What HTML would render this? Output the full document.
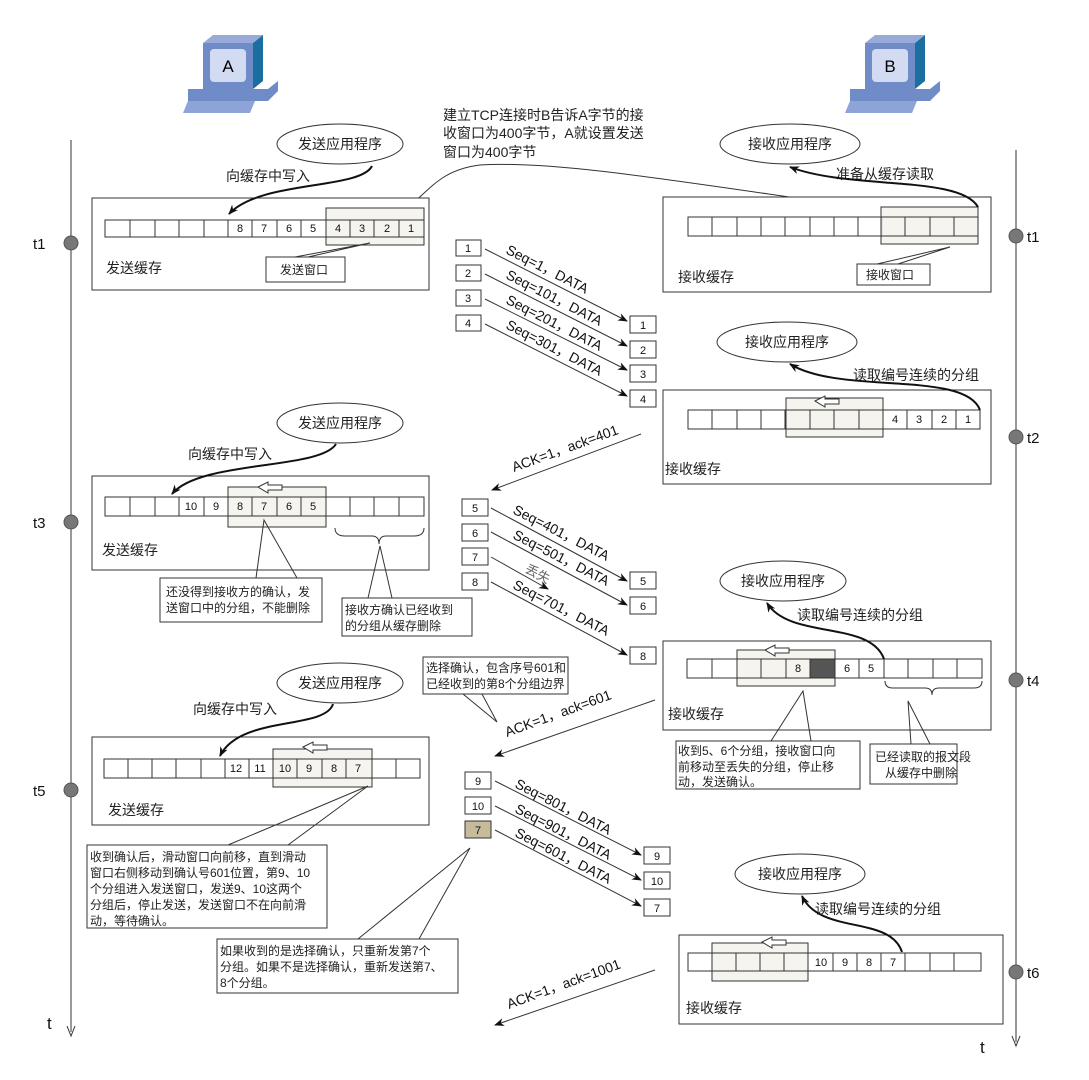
<!DOCTYPE html>
<html><head><meta charset="utf-8"><style>
html,body{margin:0;padding:0;background:#fff;}
svg{display:block;font-family:"Liberation Sans","Noto Sans CJK SC",sans-serif;}
.c{fill:#fff;stroke:#333;stroke-width:1;}
.w{fill:#f3f2ec;fill-opacity:.85;stroke:#333;stroke-width:1;}
.n{font-size:11px;text-anchor:middle;fill:#111;}
.l{font-size:14px;fill:#222;}
.s{font-size:12px;fill:#222;}
.ln{stroke:#333;fill:none;stroke-width:1;}
.cv{stroke:#111;fill:none;stroke-width:2;}
.sq{font-size:14px;fill:#111;}
</style></head><body>
<svg width="1089" height="1080" viewBox="0 0 1089 1080" xmlns="http://www.w3.org/2000/svg">
<defs>
<marker id="a" markerWidth="10" markerHeight="8" refX="9" refY="4" orient="auto" markerUnits="userSpaceOnUse"><path d="M0,0 L10,4 L0,8 L3,4 z" fill="#111"/></marker>
<g id="pc">
<polygon points="0,10 10,2 60,2 50,10" fill="#9aaad8"/>
<polygon points="50,10 60,2 60,48 50,56" fill="#1a6ea0"/>
<rect x="0" y="10" width="50" height="46" fill="#6f8cc8"/>
<rect x="7" y="16" width="36" height="33" rx="4" fill="#d3dbf2"/>
<polygon points="-15,56 65,56 75,48 75,58 65,68 -15,68" fill="#6f8cc8"/>
<polygon points="-20,80 47,80 52,68 -15,68" fill="#8ea4d8"/>
</g>
<g id="larr"><polygon points="0,5 10,0 10,3 24,3 24,8 10,8 10,11" fill="#fff" stroke="#333"/></g>
</defs>

<use href="#pc" x="203" y="33"/>
<text x="228" y="72" font-size="17" text-anchor="middle">A</text>
<use href="#pc" x="865" y="33"/>
<text x="890" y="72" font-size="17" text-anchor="middle">B</text>

<line x1="71" y1="140" x2="71" y2="1032" class="ln"/>
<path d="M67,1026 L71,1036 L75,1026" class="ln"/>
<line x1="1016" y1="150" x2="1016" y2="1042" class="ln"/>
<path d="M1012,1036 L1016,1046 L1020,1036" class="ln"/>
<g fill="#777" stroke="#555">
<circle cx="71" cy="243" r="7"/><circle cx="71" cy="522" r="7"/><circle cx="71" cy="790" r="7"/>
<circle cx="1016" cy="236" r="7"/><circle cx="1016" cy="437" r="7"/><circle cx="1016" cy="680" r="7"/><circle cx="1016" cy="972" r="7"/>
</g>
<g font-size="15" fill="#111">
<text x="33" y="249">t1</text><text x="33" y="528">t3</text><text x="33" y="796">t5</text>
<text x="1027" y="242">t1</text><text x="1027" y="443">t2</text><text x="1027" y="686">t4</text><text x="1027" y="978">t6</text>
<text x="47" y="1029" font-size="17">t</text><text x="980" y="1053" font-size="17">t</text>
</g>

<g class="l" font-size="14"><text x="443" y="120">建立TCP连接时B告诉A字节的接</text><text x="443" y="138">收窗口为400字节，A就设置发送</text><text x="443" y="157">窗口为400字节</text></g>
<path d="M880,210 C700,185 560,160 480,165 C440,170 430,190 403,212" class="ln" marker-end="url(#a)"/>

<rect x="92" y="198" width="337" height="92" class="c"/>
<g class="c">
<rect x="105" y="220" width="25" height="17"/><rect x="130" y="220" width="25" height="17"/><rect x="155" y="220" width="24" height="17"/><rect x="179" y="220" width="25" height="17"/><rect x="204" y="220" width="24" height="17"/><rect x="228" y="220" width="24" height="17"/><rect x="252" y="220" width="25" height="17"/><rect x="277" y="220" width="24" height="17"/><rect x="301" y="220" width="25" height="17"/>
</g>
<rect x="326" y="208" width="98" height="37" class="w"/>
<g class="c" style="fill:none"><rect x="326" y="220" width="24" height="17"/><rect x="350" y="220" width="24" height="17"/><rect x="374" y="220" width="25" height="17"/><rect x="399" y="220" width="25" height="17"/></g>
<g class="n"><text x="240" y="232">8</text><text x="264" y="232">7</text><text x="289" y="232">6</text><text x="313" y="232">5</text><text x="338" y="232">4</text><text x="362" y="232">3</text><text x="387" y="232">2</text><text x="411" y="232">1</text></g>
<polyline points="295,257 370,243 308,257" class="ln"/>
<rect x="266" y="257" width="79" height="25" class="c"/>
<text x="280" y="274" class="s">发送窗口</text>
<text x="106" y="273" class="l">发送缓存</text>
<ellipse cx="340" cy="144" rx="63" ry="20" class="c"/>
<text x="340" y="149" class="l" text-anchor="middle">发送应用程序</text>
<text x="226" y="181" class="l">向缓存中写入</text>
<path d="M372,166 C360,190 260,180 229,214" class="cv" marker-end="url(#a)"/>

<rect x="663" y="197" width="328" height="95" class="c"/>
<g class="c">
<rect x="688" y="217" width="24" height="19"/><rect x="712" y="217" width="25" height="19"/><rect x="737" y="217" width="24" height="19"/><rect x="761" y="217" width="24" height="19"/><rect x="785" y="217" width="25" height="19"/><rect x="810" y="217" width="24" height="19"/><rect x="834" y="217" width="24" height="19"/><rect x="858" y="217" width="24" height="19"/>
</g>
<rect x="881" y="207" width="97" height="37" class="w"/>
<g class="c" style="fill:none"><rect x="881" y="217" width="24" height="19"/><rect x="905" y="217" width="25" height="19"/><rect x="930" y="217" width="24" height="19"/><rect x="954" y="217" width="24" height="19"/></g>
<polyline points="877,264 950,247 898,264" class="ln"/>
<rect x="857" y="264" width="73" height="21" class="c"/>
<text x="866" y="279" class="s">接收窗口</text>
<text x="678" y="282" class="l">接收缓存</text>
<ellipse cx="790" cy="144" rx="70" ry="20" class="c"/>
<text x="790" y="149" class="l" text-anchor="middle">接收应用程序</text>
<text x="836" y="179" class="l">准备从缓存读取</text>
<path d="M978,207 C960,175 850,190 790,167" class="cv" marker-end="url(#a)"/>

<g class="c">
<rect x="456" y="240" width="25" height="16"/><rect x="456" y="265" width="25" height="16"/><rect x="456" y="290" width="25" height="16"/><rect x="456" y="315" width="25" height="16"/>
<rect x="630" y="316" width="26" height="17"/><rect x="630" y="341" width="26" height="17"/><rect x="630" y="365" width="26" height="17"/><rect x="630" y="390" width="26" height="17"/>
</g>
<g class="n"><text x="468" y="252">1</text><text x="468" y="277">2</text><text x="468" y="302">3</text><text x="468" y="327">4</text>
<text x="643" y="329">1</text><text x="643" y="354">2</text><text x="643" y="378">3</text><text x="643" y="403">4</text></g>
<g class="ln" marker-end="url(#a)">
<line x1="485" y1="249" x2="627" y2="321"/><line x1="485" y1="274" x2="627" y2="346"/><line x1="485" y1="299" x2="627" y2="370"/><line x1="485" y1="324" x2="627" y2="396"/>
</g>
<g class="sq">
<text transform="translate(505,253) rotate(27)">Seq=1，DATA</text>
<text transform="translate(505,278) rotate(27)">Seq=101，DATA</text>
<text transform="translate(505,303) rotate(27)">Seq=201，DATA</text>
<text transform="translate(505,328) rotate(27)">Seq=301，DATA</text>
</g>

<rect x="663" y="390" width="328" height="94" class="c"/>
<g class="c">
<rect x="688" y="410" width="24" height="19"/><rect x="712" y="410" width="25" height="19"/><rect x="737" y="410" width="24" height="19"/><rect x="761" y="410" width="24" height="19"/>
<rect x="883" y="410" width="24" height="19"/><rect x="907" y="410" width="25" height="19"/><rect x="932" y="410" width="24" height="19"/><rect x="956" y="410" width="24" height="19"/>
</g>
<rect x="786" y="398" width="97" height="39" class="w"/>
<g class="c" style="fill:none"><rect x="786" y="410" width="24" height="19"/><rect x="810" y="410" width="24" height="19"/><rect x="834" y="410" width="25" height="19"/><rect x="859" y="410" width="24" height="19"/></g>
<use href="#larr" x="815" y="396"/>
<g class="n"><text x="895" y="423">4</text><text x="919" y="423">3</text><text x="944" y="423">2</text><text x="968" y="423">1</text></g>
<text x="665" y="474" class="l">接收缓存</text>
<ellipse cx="787" cy="342" rx="70" ry="20" class="c"/>
<text x="787" y="347" class="l" text-anchor="middle">接收应用程序</text>
<text x="853" y="380" class="l">读取编号连续的分组</text>
<path d="M980,410 C965,370 840,395 790,364" class="cv" marker-end="url(#a)"/>
<line x1="641" y1="434" x2="492" y2="490" class="ln" marker-end="url(#a)"/>
<text transform="translate(514,472) rotate(-20)" class="sq">ACK=1，ack=401</text>

<rect x="92" y="476" width="337" height="94" class="c"/>
<g class="c">
<rect x="105" y="497" width="25" height="19"/><rect x="130" y="497" width="25" height="19"/><rect x="155" y="497" width="24" height="19"/><rect x="179" y="497" width="25" height="19"/><rect x="204" y="497" width="24" height="19"/>
<rect x="326" y="497" width="24" height="19"/><rect x="350" y="497" width="24" height="19"/><rect x="374" y="497" width="25" height="19"/><rect x="399" y="497" width="25" height="19"/>
</g>
<rect x="228" y="487" width="98" height="40" class="w"/>
<g class="c" style="fill:none"><rect x="228" y="497" width="24" height="19"/><rect x="252" y="497" width="25" height="19"/><rect x="277" y="497" width="24" height="19"/><rect x="301" y="497" width="25" height="19"/></g>
<use href="#larr" x="258" y="482"/>
<g class="n"><text x="191" y="510">10</text><text x="216" y="510">9</text><text x="240" y="510">8</text><text x="264" y="510">7</text><text x="289" y="510">6</text><text x="313" y="510">5</text></g>
<path d="M335,528 Q335,536 345,536 L372,536 Q379,536 379,544 Q379,536 386,536 L414,536 Q424,536 424,528" class="ln"/>
<text x="102" y="555" class="l">发送缓存</text>
<polyline points="256,578 264,520 297,578" class="ln"/>
<rect x="160" y="578" width="162" height="44" class="c"/>
<text x="166" y="596" class="s">还没得到接收方的确认，发</text><text x="166" y="612" class="s">送窗口中的分组，不能删除</text>
<polyline points="368,598 380,546 392,598" class="ln"/>
<rect x="342" y="598" width="130" height="38" class="c"/>
<text x="345" y="614" class="s">接收方确认已经收到</text><text x="345" y="630" class="s">的分组从缓存删除</text>
<ellipse cx="340" cy="423" rx="63" ry="20" class="c"/>
<text x="340" y="428" class="l" text-anchor="middle">发送应用程序</text>
<text x="188" y="459" class="l">向缓存中写入</text>
<path d="M336,444 C320,470 200,460 172,494" class="cv" marker-end="url(#a)"/>

<g class="c">
<rect x="462" y="499" width="26" height="17"/><rect x="462" y="524" width="26" height="17"/><rect x="462" y="548" width="26" height="17"/><rect x="462" y="573" width="26" height="17"/>
<rect x="630" y="572" width="26" height="17"/><rect x="630" y="597" width="26" height="17"/><rect x="630" y="647" width="26" height="17"/>
</g>
<g class="n"><text x="475" y="512">5</text><text x="475" y="537">6</text><text x="475" y="561">7</text><text x="475" y="586">8</text>
<text x="643" y="585">5</text><text x="643" y="610">6</text><text x="643" y="660">8</text></g>
<g class="ln" marker-end="url(#a)">
<line x1="491" y1="508" x2="627" y2="581"/><line x1="491" y1="532" x2="627" y2="605"/><line x1="491" y1="557" x2="548" y2="589"/><line x1="491" y1="582" x2="627" y2="655"/>
</g>
<text transform="translate(524,572) rotate(27)" font-size="13" fill="#666">丢失</text>
<g class="sq">
<text transform="translate(512,513) rotate(27)">Seq=401，DATA</text>
<text transform="translate(512,538) rotate(27)">Seq=501，DATA</text>
<text transform="translate(512,588) rotate(27)">Seq=701，DATA</text>
</g>

<rect x="663" y="641" width="328" height="89" class="c"/>
<g class="c">
<rect x="687" y="659" width="25" height="19"/><rect x="712" y="659" width="25" height="19"/>
<rect x="835" y="659" width="24" height="19"/><rect x="859" y="659" width="25" height="19"/><rect x="884" y="659" width="24" height="19"/><rect x="908" y="659" width="25" height="19"/><rect x="933" y="659" width="24" height="19"/><rect x="957" y="659" width="25" height="19"/>
</g>
<rect x="737" y="650" width="98" height="36" class="w"/>
<g class="c" style="fill:none"><rect x="737" y="659" width="24" height="19"/><rect x="761" y="659" width="25" height="19"/><rect x="786" y="659" width="24" height="19"/></g>
<rect x="810" y="659" width="25" height="19" fill="#555" stroke="#333"/>
<use href="#larr" x="765" y="645"/>
<g class="n"><text x="798" y="672">8</text><text x="847" y="672">6</text><text x="871" y="672">5</text></g>
<path d="M885,681 Q885,688 893,688 L925,688 Q932,688 932,695 Q932,688 939,688 L974,688 Q982,688 982,681" class="ln"/>
<text x="668" y="719" class="l">接收缓存</text>
<ellipse cx="783" cy="581" rx="63" ry="20" class="c"/>
<text x="783" y="586" class="l" text-anchor="middle">接收应用程序</text>
<text x="797" y="620" class="l">读取编号连续的分组</text>
<path d="M884,659 C870,620 790,640 767,603" class="cv" marker-end="url(#a)"/>
<polyline points="771,741 803,691 811,741" class="ln"/>
<rect x="676" y="741" width="184" height="48" class="c"/>
<text x="678" y="755" class="s">收到5、6个分组，接收窗口向</text><text x="678" y="771" class="s">前移动至丢失的分组，停止移</text><text x="678" y="786" class="s">动，发送确认。</text>
<polyline points="911,744 908,701 930,744" class="ln"/>
<rect x="870" y="744" width="87" height="40" class="c"/>
<text x="875" y="761" class="s">已经读取的报文段</text><text x="885" y="777" class="s">从缓存中删除</text>
<polyline points="463,694 497,722 482,694" class="ln"/>
<rect x="423" y="657" width="145" height="37" class="c"/>
<text x="426" y="672" class="s">选择确认，包含序号601和</text><text x="426" y="688" class="s">已经收到的第8个分组边界</text>
<line x1="655" y1="700" x2="495" y2="756" class="ln" marker-end="url(#a)"/>
<text transform="translate(507,737) rotate(-20)" class="sq">ACK=1，ack=601</text>

<rect x="92" y="737" width="337" height="88" class="c"/>
<g class="c">
<rect x="104" y="759" width="24" height="19"/><rect x="128" y="759" width="24" height="19"/><rect x="152" y="759" width="24" height="19"/><rect x="176" y="759" width="25" height="19"/><rect x="201" y="759" width="24" height="19"/><rect x="225" y="759" width="24" height="19"/><rect x="249" y="759" width="24" height="19"/>
<rect x="372" y="759" width="24" height="19"/><rect x="396" y="759" width="24" height="19"/>
</g>
<rect x="273" y="749" width="99" height="38" class="w"/>
<g class="c" style="fill:none"><rect x="273" y="759" width="24" height="19"/><rect x="297" y="759" width="25" height="19"/><rect x="322" y="759" width="24" height="19"/><rect x="346" y="759" width="26" height="19"/></g>
<use href="#larr" x="303" y="742"/>
<g class="n"><text x="236" y="772">12</text><text x="260" y="772">11</text><text x="285" y="772">10</text><text x="309" y="772">9</text><text x="334" y="772">8</text><text x="358" y="772">7</text></g>
<text x="108" y="815" class="l">发送缓存</text>
<ellipse cx="340" cy="683" rx="63" ry="20" class="c"/>
<text x="340" y="688" class="l" text-anchor="middle">发送应用程序</text>
<text x="193" y="714" class="l">向缓存中写入</text>
<path d="M333,704 C325,730 240,715 220,756" class="cv" marker-end="url(#a)"/>
<polyline points="228,845 368,786 288,845" class="ln"/>
<rect x="87" y="845" width="240" height="83" class="c"/>
<g class="s"><text x="90" y="861">收到确认后，滑动窗口向前移，直到滑动</text><text x="90" y="877">窗口右侧移动到确认号601位置，第9、10</text><text x="90" y="893">个分组进入发送窗口，发送9、10这两个</text><text x="90" y="909">分组后，停止发送，发送窗口不在向前滑</text><text x="90" y="925">动，等待确认。</text></g>
<polyline points="358,939 470,848 419,939" class="ln"/>
<rect x="217" y="939" width="241" height="54" class="c"/>
<g class="s"><text x="220" y="955">如果收到的是选择确认，只重新发第7个</text><text x="220" y="971">分组。如果不是选择确认，重新发送第7、</text><text x="220" y="987">8个分组。</text></g>

<g class="c">
<rect x="465" y="772" width="26" height="17"/><rect x="465" y="797" width="26" height="17"/>
<rect x="644" y="847" width="26" height="17"/><rect x="644" y="872" width="26" height="17"/><rect x="644" y="899" width="26" height="17"/>
</g>
<rect x="465" y="821" width="26" height="17" fill="#c6bc9c" stroke="#333"/>
<g class="n"><text x="478" y="785">9</text><text x="478" y="810">10</text><text x="478" y="834">7</text>
<text x="657" y="860">9</text><text x="657" y="885">10</text><text x="657" y="912">7</text></g>
<g class="ln" marker-end="url(#a)">
<line x1="495" y1="781" x2="641" y2="855"/><line x1="495" y1="806" x2="641" y2="880"/><line x1="495" y1="830" x2="641" y2="906"/>
</g>
<g class="sq">
<text transform="translate(514,787) rotate(27)">Seq=801，DATA</text>
<text transform="translate(514,812) rotate(27)">Seq=901，DATA</text>
<text transform="translate(514,836) rotate(27)">Seq=601，DATA</text>
</g>

<rect x="679" y="935" width="324" height="89" class="c"/>
<g class="c">
<rect x="688" y="953" width="24" height="18"/>
<rect x="808" y="953" width="25" height="18"/><rect x="833" y="953" width="24" height="18"/><rect x="857" y="953" width="24" height="18"/><rect x="881" y="953" width="24" height="18"/><rect x="905" y="953" width="25" height="18"/><rect x="930" y="953" width="24" height="18"/><rect x="954" y="953" width="27" height="18"/>
</g>
<rect x="712" y="943" width="96" height="38" class="w"/>
<g class="c" style="fill:none"><rect x="712" y="953" width="24" height="18"/><rect x="736" y="953" width="24" height="18"/><rect x="760" y="953" width="24" height="18"/><rect x="784" y="953" width="24" height="18"/></g>
<use href="#larr" x="762" y="937"/>
<g class="n"><text x="821" y="966">10</text><text x="845" y="966">9</text><text x="869" y="966">8</text><text x="893" y="966">7</text></g>
<text x="686" y="1013" class="l">接收缓存</text>
<ellipse cx="800" cy="874" rx="65" ry="20" class="c"/>
<text x="800" y="879" class="l" text-anchor="middle">接收应用程序</text>
<text x="815" y="914" class="l">读取编号连续的分组</text>
<path d="M902,952 C890,915 820,935 802,896" class="cv" marker-end="url(#a)"/>
<line x1="655" y1="970" x2="495" y2="1025" class="ln" marker-end="url(#a)"/>
<text transform="translate(509,1009) rotate(-20)" class="sq">ACK=1，ack=1001</text>
</svg>
</body></html>
